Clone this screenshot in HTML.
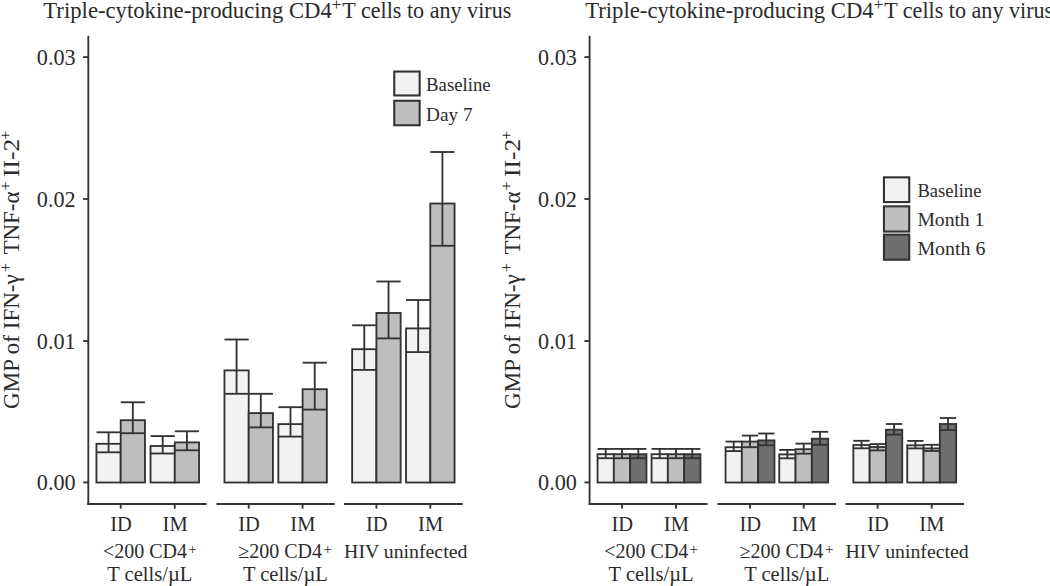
<!DOCTYPE html>
<html><head><meta charset="utf-8">
<style>
html,body{margin:0;padding:0;background:#fff;width:1050px;height:586px;overflow:hidden}
svg{display:block}
text{font-family:"Liberation Serif",serif;fill:#2b2b2b}
</style></head><body>
<svg width="1050" height="586" viewBox="0 0 1050 586">
<rect width="1050" height="586" fill="#fff"/>
<rect x="96.45" y="443.80" width="24.25" height="38.70" fill="#f2f2f2" stroke="#333333" stroke-width="1.85"/>
<line x1="96.45" y1="452.30" x2="120.70" y2="452.30" stroke="#333333" stroke-width="1.85" stroke-linecap="butt"/>
<line x1="108.58" y1="432.30" x2="108.58" y2="452.30" stroke="#333333" stroke-width="1.85" stroke-linecap="butt"/>
<line x1="96.45" y1="432.30" x2="120.70" y2="432.30" stroke="#333333" stroke-width="1.85" stroke-linecap="butt"/>
<rect x="120.70" y="420.20" width="24.25" height="62.30" fill="#bebec0" stroke="#333333" stroke-width="1.85"/>
<line x1="120.70" y1="433.20" x2="144.95" y2="433.20" stroke="#333333" stroke-width="1.85" stroke-linecap="butt"/>
<line x1="132.82" y1="402.30" x2="132.82" y2="433.20" stroke="#333333" stroke-width="1.85" stroke-linecap="butt"/>
<line x1="120.70" y1="402.30" x2="144.95" y2="402.30" stroke="#333333" stroke-width="1.85" stroke-linecap="butt"/>
<rect x="150.55" y="446.00" width="24.25" height="36.50" fill="#f2f2f2" stroke="#333333" stroke-width="1.85"/>
<line x1="150.55" y1="453.50" x2="174.80" y2="453.50" stroke="#333333" stroke-width="1.85" stroke-linecap="butt"/>
<line x1="162.68" y1="436.10" x2="162.68" y2="453.50" stroke="#333333" stroke-width="1.85" stroke-linecap="butt"/>
<line x1="150.55" y1="436.10" x2="174.80" y2="436.10" stroke="#333333" stroke-width="1.85" stroke-linecap="butt"/>
<rect x="174.80" y="442.40" width="24.25" height="40.10" fill="#bebec0" stroke="#333333" stroke-width="1.85"/>
<line x1="174.80" y1="450.30" x2="199.05" y2="450.30" stroke="#333333" stroke-width="1.85" stroke-linecap="butt"/>
<line x1="186.93" y1="431.30" x2="186.93" y2="450.30" stroke="#333333" stroke-width="1.85" stroke-linecap="butt"/>
<line x1="174.80" y1="431.30" x2="199.05" y2="431.30" stroke="#333333" stroke-width="1.85" stroke-linecap="butt"/>
<rect x="224.45" y="370.40" width="24.25" height="112.10" fill="#f2f2f2" stroke="#333333" stroke-width="1.85"/>
<line x1="224.45" y1="393.80" x2="248.70" y2="393.80" stroke="#333333" stroke-width="1.85" stroke-linecap="butt"/>
<line x1="236.57" y1="339.50" x2="236.57" y2="393.80" stroke="#333333" stroke-width="1.85" stroke-linecap="butt"/>
<line x1="224.45" y1="339.50" x2="248.70" y2="339.50" stroke="#333333" stroke-width="1.85" stroke-linecap="butt"/>
<rect x="248.70" y="413.10" width="24.25" height="69.40" fill="#bebec0" stroke="#333333" stroke-width="1.85"/>
<line x1="248.70" y1="427.40" x2="272.95" y2="427.40" stroke="#333333" stroke-width="1.85" stroke-linecap="butt"/>
<line x1="260.82" y1="393.80" x2="260.82" y2="427.40" stroke="#333333" stroke-width="1.85" stroke-linecap="butt"/>
<line x1="248.70" y1="393.80" x2="272.95" y2="393.80" stroke="#333333" stroke-width="1.85" stroke-linecap="butt"/>
<rect x="278.35" y="424.10" width="24.25" height="58.40" fill="#f2f2f2" stroke="#333333" stroke-width="1.85"/>
<line x1="278.35" y1="436.60" x2="302.60" y2="436.60" stroke="#333333" stroke-width="1.85" stroke-linecap="butt"/>
<line x1="290.48" y1="407.20" x2="290.48" y2="436.60" stroke="#333333" stroke-width="1.85" stroke-linecap="butt"/>
<line x1="278.35" y1="407.20" x2="302.60" y2="407.20" stroke="#333333" stroke-width="1.85" stroke-linecap="butt"/>
<rect x="302.60" y="389.20" width="24.25" height="93.30" fill="#bebec0" stroke="#333333" stroke-width="1.85"/>
<line x1="302.60" y1="409.60" x2="326.85" y2="409.60" stroke="#333333" stroke-width="1.85" stroke-linecap="butt"/>
<line x1="314.73" y1="362.70" x2="314.73" y2="409.60" stroke="#333333" stroke-width="1.85" stroke-linecap="butt"/>
<line x1="302.60" y1="362.70" x2="326.85" y2="362.70" stroke="#333333" stroke-width="1.85" stroke-linecap="butt"/>
<rect x="352.15" y="349.20" width="24.25" height="133.30" fill="#f2f2f2" stroke="#333333" stroke-width="1.85"/>
<line x1="352.15" y1="369.90" x2="376.40" y2="369.90" stroke="#333333" stroke-width="1.85" stroke-linecap="butt"/>
<line x1="364.27" y1="325.30" x2="364.27" y2="369.90" stroke="#333333" stroke-width="1.85" stroke-linecap="butt"/>
<line x1="352.15" y1="325.30" x2="376.40" y2="325.30" stroke="#333333" stroke-width="1.85" stroke-linecap="butt"/>
<rect x="376.40" y="313.00" width="24.25" height="169.50" fill="#bebec0" stroke="#333333" stroke-width="1.85"/>
<line x1="376.40" y1="338.40" x2="400.65" y2="338.40" stroke="#333333" stroke-width="1.85" stroke-linecap="butt"/>
<line x1="388.52" y1="281.50" x2="388.52" y2="338.40" stroke="#333333" stroke-width="1.85" stroke-linecap="butt"/>
<line x1="376.40" y1="281.50" x2="400.65" y2="281.50" stroke="#333333" stroke-width="1.85" stroke-linecap="butt"/>
<rect x="406.05" y="328.40" width="24.25" height="154.10" fill="#f2f2f2" stroke="#333333" stroke-width="1.85"/>
<line x1="406.05" y1="352.10" x2="430.30" y2="352.10" stroke="#333333" stroke-width="1.85" stroke-linecap="butt"/>
<line x1="418.18" y1="300.00" x2="418.18" y2="352.10" stroke="#333333" stroke-width="1.85" stroke-linecap="butt"/>
<line x1="406.05" y1="300.00" x2="430.30" y2="300.00" stroke="#333333" stroke-width="1.85" stroke-linecap="butt"/>
<rect x="430.30" y="203.50" width="24.25" height="279.00" fill="#bebec0" stroke="#333333" stroke-width="1.85"/>
<line x1="430.30" y1="245.80" x2="454.55" y2="245.80" stroke="#333333" stroke-width="1.85" stroke-linecap="butt"/>
<line x1="442.43" y1="152.00" x2="442.43" y2="245.80" stroke="#333333" stroke-width="1.85" stroke-linecap="butt"/>
<line x1="430.30" y1="152.00" x2="454.55" y2="152.00" stroke="#333333" stroke-width="1.85" stroke-linecap="butt"/>
<rect x="597.55" y="454.20" width="16.30" height="28.30" fill="#f2f2f2" stroke="#333333" stroke-width="1.85"/>
<line x1="597.55" y1="458.20" x2="613.85" y2="458.20" stroke="#333333" stroke-width="1.85" stroke-linecap="butt"/>
<line x1="605.70" y1="448.90" x2="605.70" y2="458.20" stroke="#333333" stroke-width="1.85" stroke-linecap="butt"/>
<line x1="597.55" y1="448.90" x2="613.85" y2="448.90" stroke="#333333" stroke-width="1.85" stroke-linecap="butt"/>
<rect x="613.85" y="454.20" width="16.30" height="28.30" fill="#bebec0" stroke="#333333" stroke-width="1.85"/>
<line x1="613.85" y1="458.20" x2="630.15" y2="458.20" stroke="#333333" stroke-width="1.85" stroke-linecap="butt"/>
<line x1="622.00" y1="448.90" x2="622.00" y2="458.20" stroke="#333333" stroke-width="1.85" stroke-linecap="butt"/>
<line x1="613.85" y1="448.90" x2="630.15" y2="448.90" stroke="#333333" stroke-width="1.85" stroke-linecap="butt"/>
<rect x="630.15" y="454.20" width="16.30" height="28.30" fill="#6e6e71" stroke="#333333" stroke-width="1.85"/>
<line x1="630.15" y1="458.20" x2="646.45" y2="458.20" stroke="#333333" stroke-width="1.85" stroke-linecap="butt"/>
<line x1="638.30" y1="448.90" x2="638.30" y2="458.20" stroke="#333333" stroke-width="1.85" stroke-linecap="butt"/>
<line x1="630.15" y1="448.90" x2="646.45" y2="448.90" stroke="#333333" stroke-width="1.85" stroke-linecap="butt"/>
<rect x="651.55" y="454.20" width="16.30" height="28.30" fill="#f2f2f2" stroke="#333333" stroke-width="1.85"/>
<line x1="651.55" y1="458.20" x2="667.85" y2="458.20" stroke="#333333" stroke-width="1.85" stroke-linecap="butt"/>
<line x1="659.70" y1="448.90" x2="659.70" y2="458.20" stroke="#333333" stroke-width="1.85" stroke-linecap="butt"/>
<line x1="651.55" y1="448.90" x2="667.85" y2="448.90" stroke="#333333" stroke-width="1.85" stroke-linecap="butt"/>
<rect x="667.85" y="454.20" width="16.30" height="28.30" fill="#bebec0" stroke="#333333" stroke-width="1.85"/>
<line x1="667.85" y1="458.20" x2="684.15" y2="458.20" stroke="#333333" stroke-width="1.85" stroke-linecap="butt"/>
<line x1="676.00" y1="448.90" x2="676.00" y2="458.20" stroke="#333333" stroke-width="1.85" stroke-linecap="butt"/>
<line x1="667.85" y1="448.90" x2="684.15" y2="448.90" stroke="#333333" stroke-width="1.85" stroke-linecap="butt"/>
<rect x="684.15" y="454.20" width="16.30" height="28.30" fill="#6e6e71" stroke="#333333" stroke-width="1.85"/>
<line x1="684.15" y1="458.20" x2="700.45" y2="458.20" stroke="#333333" stroke-width="1.85" stroke-linecap="butt"/>
<line x1="692.30" y1="448.90" x2="692.30" y2="458.20" stroke="#333333" stroke-width="1.85" stroke-linecap="butt"/>
<line x1="684.15" y1="448.90" x2="700.45" y2="448.90" stroke="#333333" stroke-width="1.85" stroke-linecap="butt"/>
<rect x="725.55" y="447.20" width="16.30" height="35.30" fill="#f2f2f2" stroke="#333333" stroke-width="1.85"/>
<line x1="725.55" y1="451.10" x2="741.85" y2="451.10" stroke="#333333" stroke-width="1.85" stroke-linecap="butt"/>
<line x1="733.70" y1="441.60" x2="733.70" y2="451.10" stroke="#333333" stroke-width="1.85" stroke-linecap="butt"/>
<line x1="725.55" y1="441.60" x2="741.85" y2="441.60" stroke="#333333" stroke-width="1.85" stroke-linecap="butt"/>
<rect x="741.85" y="441.60" width="16.30" height="40.90" fill="#bebec0" stroke="#333333" stroke-width="1.85"/>
<line x1="741.85" y1="447.20" x2="758.15" y2="447.20" stroke="#333333" stroke-width="1.85" stroke-linecap="butt"/>
<line x1="750.00" y1="435.60" x2="750.00" y2="447.20" stroke="#333333" stroke-width="1.85" stroke-linecap="butt"/>
<line x1="741.85" y1="435.60" x2="758.15" y2="435.60" stroke="#333333" stroke-width="1.85" stroke-linecap="butt"/>
<rect x="758.15" y="440.40" width="16.30" height="42.10" fill="#6e6e71" stroke="#333333" stroke-width="1.85"/>
<line x1="758.15" y1="445.30" x2="774.45" y2="445.30" stroke="#333333" stroke-width="1.85" stroke-linecap="butt"/>
<line x1="766.30" y1="433.50" x2="766.30" y2="445.30" stroke="#333333" stroke-width="1.85" stroke-linecap="butt"/>
<line x1="758.15" y1="433.50" x2="774.45" y2="433.50" stroke="#333333" stroke-width="1.85" stroke-linecap="butt"/>
<rect x="779.25" y="454.40" width="16.30" height="28.10" fill="#f2f2f2" stroke="#333333" stroke-width="1.85"/>
<line x1="779.25" y1="458.30" x2="795.55" y2="458.30" stroke="#333333" stroke-width="1.85" stroke-linecap="butt"/>
<line x1="787.40" y1="449.90" x2="787.40" y2="458.30" stroke="#333333" stroke-width="1.85" stroke-linecap="butt"/>
<line x1="779.25" y1="449.90" x2="795.55" y2="449.90" stroke="#333333" stroke-width="1.85" stroke-linecap="butt"/>
<rect x="795.55" y="449.20" width="16.30" height="33.30" fill="#bebec0" stroke="#333333" stroke-width="1.85"/>
<line x1="795.55" y1="453.70" x2="811.85" y2="453.70" stroke="#333333" stroke-width="1.85" stroke-linecap="butt"/>
<line x1="803.70" y1="443.60" x2="803.70" y2="453.70" stroke="#333333" stroke-width="1.85" stroke-linecap="butt"/>
<line x1="795.55" y1="443.60" x2="811.85" y2="443.60" stroke="#333333" stroke-width="1.85" stroke-linecap="butt"/>
<rect x="811.85" y="438.70" width="16.30" height="43.80" fill="#6e6e71" stroke="#333333" stroke-width="1.85"/>
<line x1="811.85" y1="444.80" x2="828.15" y2="444.80" stroke="#333333" stroke-width="1.85" stroke-linecap="butt"/>
<line x1="820.00" y1="431.80" x2="820.00" y2="444.80" stroke="#333333" stroke-width="1.85" stroke-linecap="butt"/>
<line x1="811.85" y1="431.80" x2="828.15" y2="431.80" stroke="#333333" stroke-width="1.85" stroke-linecap="butt"/>
<rect x="853.35" y="445.00" width="16.30" height="37.50" fill="#f2f2f2" stroke="#333333" stroke-width="1.85"/>
<line x1="853.35" y1="448.30" x2="869.65" y2="448.30" stroke="#333333" stroke-width="1.85" stroke-linecap="butt"/>
<line x1="861.50" y1="440.80" x2="861.50" y2="448.30" stroke="#333333" stroke-width="1.85" stroke-linecap="butt"/>
<line x1="853.35" y1="440.80" x2="869.65" y2="440.80" stroke="#333333" stroke-width="1.85" stroke-linecap="butt"/>
<rect x="869.65" y="447.00" width="16.30" height="35.50" fill="#bebec0" stroke="#333333" stroke-width="1.85"/>
<line x1="869.65" y1="450.40" x2="885.95" y2="450.40" stroke="#333333" stroke-width="1.85" stroke-linecap="butt"/>
<line x1="877.80" y1="444.10" x2="877.80" y2="450.40" stroke="#333333" stroke-width="1.85" stroke-linecap="butt"/>
<line x1="869.65" y1="444.10" x2="885.95" y2="444.10" stroke="#333333" stroke-width="1.85" stroke-linecap="butt"/>
<rect x="885.95" y="429.70" width="16.30" height="52.80" fill="#6e6e71" stroke="#333333" stroke-width="1.85"/>
<line x1="885.95" y1="434.60" x2="902.25" y2="434.60" stroke="#333333" stroke-width="1.85" stroke-linecap="butt"/>
<line x1="894.10" y1="424.00" x2="894.10" y2="434.60" stroke="#333333" stroke-width="1.85" stroke-linecap="butt"/>
<line x1="885.95" y1="424.00" x2="902.25" y2="424.00" stroke="#333333" stroke-width="1.85" stroke-linecap="butt"/>
<rect x="907.25" y="445.30" width="16.30" height="37.20" fill="#f2f2f2" stroke="#333333" stroke-width="1.85"/>
<line x1="907.25" y1="448.40" x2="923.55" y2="448.40" stroke="#333333" stroke-width="1.85" stroke-linecap="butt"/>
<line x1="915.40" y1="440.90" x2="915.40" y2="448.40" stroke="#333333" stroke-width="1.85" stroke-linecap="butt"/>
<line x1="907.25" y1="440.90" x2="923.55" y2="440.90" stroke="#333333" stroke-width="1.85" stroke-linecap="butt"/>
<rect x="923.55" y="448.40" width="16.30" height="34.10" fill="#bebec0" stroke="#333333" stroke-width="1.85"/>
<line x1="923.55" y1="451.00" x2="939.85" y2="451.00" stroke="#333333" stroke-width="1.85" stroke-linecap="butt"/>
<line x1="931.70" y1="444.80" x2="931.70" y2="451.00" stroke="#333333" stroke-width="1.85" stroke-linecap="butt"/>
<line x1="923.55" y1="444.80" x2="939.85" y2="444.80" stroke="#333333" stroke-width="1.85" stroke-linecap="butt"/>
<rect x="939.85" y="424.00" width="16.30" height="58.50" fill="#6e6e71" stroke="#333333" stroke-width="1.85"/>
<line x1="939.85" y1="430.00" x2="956.15" y2="430.00" stroke="#333333" stroke-width="1.85" stroke-linecap="butt"/>
<line x1="948.00" y1="418.00" x2="948.00" y2="430.00" stroke="#333333" stroke-width="1.85" stroke-linecap="butt"/>
<line x1="939.85" y1="418.00" x2="956.15" y2="418.00" stroke="#333333" stroke-width="1.85" stroke-linecap="butt"/>
<line x1="88.30" y1="35.80" x2="88.30" y2="505.00" stroke="#333333" stroke-width="1.85" stroke-linecap="butt"/>
<line x1="83.10" y1="57.10" x2="88.30" y2="57.10" stroke="#333333" stroke-width="1.85" stroke-linecap="butt"/>
<line x1="83.10" y1="199.00" x2="88.30" y2="199.00" stroke="#333333" stroke-width="1.85" stroke-linecap="butt"/>
<line x1="83.10" y1="341.00" x2="88.30" y2="341.00" stroke="#333333" stroke-width="1.85" stroke-linecap="butt"/>
<line x1="83.10" y1="482.40" x2="88.30" y2="482.40" stroke="#333333" stroke-width="1.85" stroke-linecap="butt"/>
<line x1="87.30" y1="504.00" x2="206.60" y2="504.00" stroke="#333333" stroke-width="1.85" stroke-linecap="butt"/>
<line x1="216.50" y1="504.00" x2="334.70" y2="504.00" stroke="#333333" stroke-width="1.85" stroke-linecap="butt"/>
<line x1="344.00" y1="504.00" x2="462.70" y2="504.00" stroke="#333333" stroke-width="1.85" stroke-linecap="butt"/>
<line x1="120.70" y1="504.00" x2="120.70" y2="508.60" stroke="#333333" stroke-width="1.85" stroke-linecap="butt"/>
<line x1="174.80" y1="504.00" x2="174.80" y2="508.60" stroke="#333333" stroke-width="1.85" stroke-linecap="butt"/>
<line x1="248.70" y1="504.00" x2="248.70" y2="508.60" stroke="#333333" stroke-width="1.85" stroke-linecap="butt"/>
<line x1="302.60" y1="504.00" x2="302.60" y2="508.60" stroke="#333333" stroke-width="1.85" stroke-linecap="butt"/>
<line x1="376.40" y1="504.00" x2="376.40" y2="508.60" stroke="#333333" stroke-width="1.85" stroke-linecap="butt"/>
<line x1="430.30" y1="504.00" x2="430.30" y2="508.60" stroke="#333333" stroke-width="1.85" stroke-linecap="butt"/>
<line x1="589.60" y1="35.80" x2="589.60" y2="505.00" stroke="#333333" stroke-width="1.85" stroke-linecap="butt"/>
<line x1="584.40" y1="57.10" x2="589.60" y2="57.10" stroke="#333333" stroke-width="1.85" stroke-linecap="butt"/>
<line x1="584.40" y1="199.00" x2="589.60" y2="199.00" stroke="#333333" stroke-width="1.85" stroke-linecap="butt"/>
<line x1="584.40" y1="341.00" x2="589.60" y2="341.00" stroke="#333333" stroke-width="1.85" stroke-linecap="butt"/>
<line x1="584.40" y1="482.40" x2="589.60" y2="482.40" stroke="#333333" stroke-width="1.85" stroke-linecap="butt"/>
<line x1="588.60" y1="504.00" x2="707.70" y2="504.00" stroke="#333333" stroke-width="1.85" stroke-linecap="butt"/>
<line x1="717.50" y1="504.00" x2="836.00" y2="504.00" stroke="#333333" stroke-width="1.85" stroke-linecap="butt"/>
<line x1="845.50" y1="504.00" x2="964.00" y2="504.00" stroke="#333333" stroke-width="1.85" stroke-linecap="butt"/>
<line x1="622.00" y1="504.00" x2="622.00" y2="508.60" stroke="#333333" stroke-width="1.85" stroke-linecap="butt"/>
<line x1="676.00" y1="504.00" x2="676.00" y2="508.60" stroke="#333333" stroke-width="1.85" stroke-linecap="butt"/>
<line x1="750.00" y1="504.00" x2="750.00" y2="508.60" stroke="#333333" stroke-width="1.85" stroke-linecap="butt"/>
<line x1="803.70" y1="504.00" x2="803.70" y2="508.60" stroke="#333333" stroke-width="1.85" stroke-linecap="butt"/>
<line x1="877.60" y1="504.00" x2="877.60" y2="508.60" stroke="#333333" stroke-width="1.85" stroke-linecap="butt"/>
<line x1="931.70" y1="504.00" x2="931.70" y2="508.60" stroke="#333333" stroke-width="1.85" stroke-linecap="butt"/>
<text x="43.3" y="18.4" font-size="23.4" text-anchor="start" textLength="288.5" lengthAdjust="spacingAndGlyphs" >Triple-cytokine-producing CD4</text>
<text x="331.6" y="9.6" font-size="17.5" text-anchor="start" >+</text>
<text x="342.3" y="18.4" font-size="23.4" text-anchor="start" textLength="169" lengthAdjust="spacingAndGlyphs" >T cells to any virus</text>
<text x="75.6" y="65.1" font-size="23" text-anchor="end" textLength="38.8" lengthAdjust="spacingAndGlyphs" >0.03</text>
<text x="75.6" y="207.0" font-size="23" text-anchor="end" textLength="38.8" lengthAdjust="spacingAndGlyphs" >0.02</text>
<text x="75.6" y="349.0" font-size="23" text-anchor="end" textLength="38.8" lengthAdjust="spacingAndGlyphs" >0.01</text>
<text x="75.6" y="490.4" font-size="23" text-anchor="end" textLength="38.8" lengthAdjust="spacingAndGlyphs" >0.00</text>
<g transform="translate(19.1,0) rotate(-90)">
<text x="-408.9" y="0" font-size="23" text-anchor="start" >GMP of IFN-γ</text>
<text x="-272.0" y="-8.0" font-size="16" text-anchor="start" >+</text>
<text x="-254.6" y="0" font-size="23" text-anchor="start" >TNF-α</text>
<text x="-190.4" y="-8.0" font-size="16" text-anchor="start" >+</text>
<text x="-176.9" y="0" font-size="23" text-anchor="start" textLength="38" lengthAdjust="spacingAndGlyphs" >II-2</text>
<text x="-139.8" y="-8.0" font-size="16" text-anchor="start" >+</text>
</g>
<text x="585.1999999999999" y="18.4" font-size="23.4" text-anchor="start" textLength="288.5" lengthAdjust="spacingAndGlyphs" >Triple-cytokine-producing CD4</text>
<text x="873.5" y="9.6" font-size="17.5" text-anchor="start" >+</text>
<text x="884.2" y="18.4" font-size="23.4" text-anchor="start" textLength="169" lengthAdjust="spacingAndGlyphs" >T cells to any virus</text>
<text x="576.9" y="65.1" font-size="23" text-anchor="end" textLength="38.8" lengthAdjust="spacingAndGlyphs" >0.03</text>
<text x="576.9" y="207.0" font-size="23" text-anchor="end" textLength="38.8" lengthAdjust="spacingAndGlyphs" >0.02</text>
<text x="576.9" y="349.0" font-size="23" text-anchor="end" textLength="38.8" lengthAdjust="spacingAndGlyphs" >0.01</text>
<text x="576.9" y="490.4" font-size="23" text-anchor="end" textLength="38.8" lengthAdjust="spacingAndGlyphs" >0.00</text>
<g transform="translate(520.4,0) rotate(-90)">
<text x="-408.9" y="0" font-size="23" text-anchor="start" >GMP of IFN-γ</text>
<text x="-272.0" y="-8.0" font-size="16" text-anchor="start" >+</text>
<text x="-254.6" y="0" font-size="23" text-anchor="start" >TNF-α</text>
<text x="-190.4" y="-8.0" font-size="16" text-anchor="start" >+</text>
<text x="-176.9" y="0" font-size="23" text-anchor="start" textLength="38" lengthAdjust="spacingAndGlyphs" >II-2</text>
<text x="-139.8" y="-8.0" font-size="16" text-anchor="start" >+</text>
</g>
<text x="121.0" y="530.8" font-size="20.5" text-anchor="middle" >ID</text>
<text x="622.3" y="530.8" font-size="20.5" text-anchor="middle" >ID</text>
<text x="175.10000000000002" y="530.8" font-size="20.5" text-anchor="middle" >IM</text>
<text x="676.4" y="530.8" font-size="20.5" text-anchor="middle" >IM</text>
<text x="249.0" y="530.8" font-size="20.5" text-anchor="middle" >ID</text>
<text x="750.3" y="530.8" font-size="20.5" text-anchor="middle" >ID</text>
<text x="302.90000000000003" y="530.8" font-size="20.5" text-anchor="middle" >IM</text>
<text x="804.2" y="530.8" font-size="20.5" text-anchor="middle" >IM</text>
<text x="376.7" y="530.8" font-size="20.5" text-anchor="middle" >ID</text>
<text x="878.0" y="530.8" font-size="20.5" text-anchor="middle" >ID</text>
<text x="430.6" y="530.8" font-size="20.5" text-anchor="middle" >IM</text>
<text x="931.9" y="530.8" font-size="20.5" text-anchor="middle" >IM</text>
<text x="103" y="558.1" font-size="20" text-anchor="start" >&lt;200 CD4</text>
<text x="188.3" y="553.6" font-size="15" text-anchor="start" >+</text>
<text x="107.3" y="581.4" font-size="20" text-anchor="start" textLength="85" lengthAdjust="spacingAndGlyphs" >T cells/µL</text>
<text x="238.3" y="558.1" font-size="20" text-anchor="start" >≥200 CD4</text>
<text x="323.6" y="553.6" font-size="15" text-anchor="start" >+</text>
<text x="242.9" y="581.4" font-size="20" text-anchor="start" textLength="85" lengthAdjust="spacingAndGlyphs" >T cells/µL</text>
<text x="344.1" y="557.8" font-size="19.8" text-anchor="start" >HIV uninfected</text>
<text x="604.3" y="558.1" font-size="20" text-anchor="start" >&lt;200 CD4</text>
<text x="689.6" y="553.6" font-size="15" text-anchor="start" >+</text>
<text x="608.6" y="581.4" font-size="20" text-anchor="start" textLength="85" lengthAdjust="spacingAndGlyphs" >T cells/µL</text>
<text x="739.6" y="558.1" font-size="20" text-anchor="start" >≥200 CD4</text>
<text x="824.9000000000001" y="553.6" font-size="15" text-anchor="start" >+</text>
<text x="744.2" y="581.4" font-size="20" text-anchor="start" textLength="85" lengthAdjust="spacingAndGlyphs" >T cells/µL</text>
<text x="845.4000000000001" y="557.8" font-size="19.8" text-anchor="start" >HIV uninfected</text>
<rect x="394.25" y="71.55" width="25.4" height="23.9" fill="#f2f2f2" stroke="#333333" stroke-width="2.1"/>
<text x="426.1" y="91.4" font-size="19.5" text-anchor="start" textLength="64.5" lengthAdjust="spacingAndGlyphs" >Baseline</text>
<rect x="394.25" y="100.75" width="25.4" height="24.5" fill="#bebec0" stroke="#333333" stroke-width="2.1"/>
<text x="426.1" y="120.8" font-size="19.5" text-anchor="start" textLength="46.5" lengthAdjust="spacingAndGlyphs" >Day 7</text>
<rect x="883.95" y="177.35" width="25.3" height="24.7" fill="#f2f2f2" stroke="#333333" stroke-width="2.1"/>
<text x="917.4" y="197.2" font-size="19.5" text-anchor="start" textLength="64" lengthAdjust="spacingAndGlyphs" >Baseline</text>
<rect x="883.95" y="206.35" width="25.3" height="25.2" fill="#bebec0" stroke="#333333" stroke-width="2.1"/>
<text x="917.4" y="225.9" font-size="19.5" text-anchor="start" textLength="67" lengthAdjust="spacingAndGlyphs" >Month 1</text>
<rect x="883.95" y="234.65" width="25.3" height="25.1" fill="#6e6e71" stroke="#333333" stroke-width="2.1"/>
<text x="917.4" y="254.5" font-size="19.5" text-anchor="start" textLength="68" lengthAdjust="spacingAndGlyphs" >Month 6</text>
</svg>
</body></html>
